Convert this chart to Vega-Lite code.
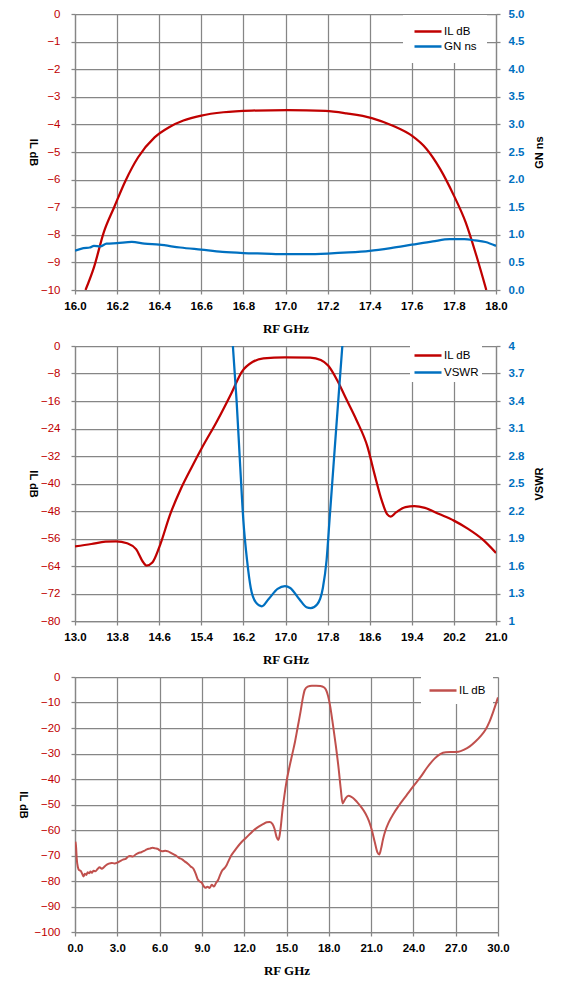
{
  "$schema": "https://vega.github.io/schema/vega-lite/v6.json",
  "background": "white",
  "padding": {"left": 17, "top": 8, "right": 5, "bottom": 5},
  "spacing": 4,
  "config": {
    "view": {"stroke": null},
    "axis": {
      "gridColor": "#868686", "gridWidth": 1.25, "gridOpacity": 1,
      "domainColor": "#868686", "domainWidth": 1.25,
      "tickColor": "#868686", "tickWidth": 1.25, "tickSize": 4
    },
    "axisX": {
      "labelFont": "Liberation Sans", "labelFontWeight": "bold", "labelFontSize": 11.5,
      "labelColor": "#000000", "labelPadding": 6, "labelFlush": false,
      "titleFont": "Liberation Serif", "titleFontSize": 13, "titleFontWeight": "bold",
      "titleColor": "#000000", "titlePadding": 11, "format": ".1f"
    },
    "axisY": {
      "labelFont": "Liberation Sans", "labelFontSize": 11.5, "labelPadding": 11,
      "titleFont": "Liberation Sans", "titleFontSize": 11, "titleFontWeight": "bold",
      "titleColor": "#000000", "titlePadding": 13
    },
    "legend": {
      "orient": "none", "title": null, "fillColor": "white", "strokeColor": null,
      "symbolType": "stroke", "symbolSize": 729, "symbolStrokeWidth": 2.5,
      "labelFont": "Liberation Sans", "labelFontSize": 11.5, "labelColor": "#000000",
      "labelOffset": 1, "rowPadding": 3, "padding": 10, "clipHeight": 13
    }
  },
  "datasets": {
    "p1il": [
      {"f": 16.05, "v": -10.0}, {"f": 16.09, "v": -9.18}, {"f": 16.137, "v": -7.9},
      {"f": 16.186, "v": -7.0}, {"f": 16.24, "v": -6.04}, {"f": 16.3, "v": -5.19},
      {"f": 16.378, "v": -4.47}, {"f": 16.447, "v": -4.1}, {"f": 16.515, "v": -3.86},
      {"f": 16.6, "v": -3.68}, {"f": 16.705, "v": -3.56}, {"f": 16.84, "v": -3.5},
      {"f": 17.01, "v": -3.48}, {"f": 17.19, "v": -3.51}, {"f": 17.29, "v": -3.6},
      {"f": 17.41, "v": -3.77}, {"f": 17.51, "v": -4.05}, {"f": 17.6, "v": -4.41},
      {"f": 17.67, "v": -4.89}, {"f": 17.735, "v": -5.62}, {"f": 17.8, "v": -6.58},
      {"f": 17.856, "v": -7.55}, {"f": 17.907, "v": -8.76}, {"f": 17.954, "v": -10.0}
    ],
    "p1gn": [
      {"f": 16.0, "v": 0.71}, {"f": 16.04, "v": 0.76}, {"f": 16.07, "v": 0.77},
      {"f": 16.09, "v": 0.8}, {"f": 16.12, "v": 0.79}, {"f": 16.15, "v": 0.84},
      {"f": 16.2, "v": 0.85}, {"f": 16.27, "v": 0.87}, {"f": 16.33, "v": 0.84},
      {"f": 16.4, "v": 0.82}, {"f": 16.5, "v": 0.77}, {"f": 16.6, "v": 0.73},
      {"f": 16.7, "v": 0.69}, {"f": 16.8, "v": 0.67}, {"f": 16.9, "v": 0.66},
      {"f": 17.0, "v": 0.65}, {"f": 17.1, "v": 0.65}, {"f": 17.2, "v": 0.66},
      {"f": 17.3, "v": 0.68}, {"f": 17.4, "v": 0.71}, {"f": 17.5, "v": 0.76},
      {"f": 17.6, "v": 0.82}, {"f": 17.7, "v": 0.88}, {"f": 17.78, "v": 0.92},
      {"f": 17.85, "v": 0.92}, {"f": 17.9, "v": 0.9}, {"f": 17.95, "v": 0.87},
      {"f": 18.0, "v": 0.8}
    ],
    "p2il": [
      {"f": 13.0, "v": -58.3}, {"f": 13.31, "v": -57.6}, {"f": 13.58, "v": -56.9},
      {"f": 13.78, "v": -56.8}, {"f": 13.99, "v": -57.4}, {"f": 14.16, "v": -59.1},
      {"f": 14.3, "v": -63.0}, {"f": 14.36, "v": -63.9}, {"f": 14.47, "v": -63.0},
      {"f": 14.6, "v": -58.6}, {"f": 14.81, "v": -48.9}, {"f": 15.01, "v": -41.6},
      {"f": 15.22, "v": -35.2}, {"f": 15.42, "v": -29.4}, {"f": 15.69, "v": -22.1},
      {"f": 15.97, "v": -13.8}, {"f": 16.17, "v": -7.5}, {"f": 16.38, "v": -4.6},
      {"f": 16.58, "v": -3.6}, {"f": 16.99, "v": -3.3}, {"f": 17.47, "v": -3.4},
      {"f": 17.67, "v": -4.1}, {"f": 17.81, "v": -5.7}, {"f": 17.98, "v": -9.9},
      {"f": 18.15, "v": -15.3}, {"f": 18.35, "v": -21.6}, {"f": 18.56, "v": -29.4},
      {"f": 18.69, "v": -37.2}, {"f": 18.83, "v": -45.0}, {"f": 18.93, "v": -48.9},
      {"f": 19.0, "v": -49.6}, {"f": 19.1, "v": -48.4}, {"f": 19.28, "v": -46.9},
      {"f": 19.45, "v": -46.6}, {"f": 19.65, "v": -47.1}, {"f": 19.92, "v": -48.9},
      {"f": 20.2, "v": -50.8}, {"f": 20.47, "v": -53.2}, {"f": 20.74, "v": -56.2},
      {"f": 21.0, "v": -60.2}
    ],
    "p2vs": [
      {"f": 16.0, "v": 4.0}, {"f": 16.07, "v": 3.41}, {"f": 16.14, "v": 2.68},
      {"f": 16.2, "v": 2.09}, {"f": 16.27, "v": 1.66}, {"f": 16.34, "v": 1.36},
      {"f": 16.44, "v": 1.2}, {"f": 16.55, "v": 1.16}, {"f": 16.68, "v": 1.24},
      {"f": 16.85, "v": 1.35}, {"f": 16.99, "v": 1.38}, {"f": 17.09, "v": 1.36},
      {"f": 17.26, "v": 1.24}, {"f": 17.4, "v": 1.15}, {"f": 17.48, "v": 1.14},
      {"f": 17.6, "v": 1.18}, {"f": 17.71, "v": 1.36}, {"f": 17.78, "v": 1.66},
      {"f": 17.84, "v": 2.13}, {"f": 17.91, "v": 2.68}, {"f": 17.98, "v": 3.23},
      {"f": 18.05, "v": 3.77}, {"f": 18.08, "v": 4.0}
    ],
    "p3il": [
      {"f": 0.03, "v": -64.6}, {"f": 0.08, "v": -67}, {"f": 0.12, "v": -71},
      {"f": 0.2, "v": -74.5}, {"f": 0.3, "v": -75.8}, {"f": 0.4, "v": -76},
      {"f": 0.5, "v": -77}, {"f": 0.6, "v": -78.2}, {"f": 0.7, "v": -77.2},
      {"f": 0.8, "v": -77.6}, {"f": 0.9, "v": -76.6}, {"f": 1.0, "v": -77},
      {"f": 1.1, "v": -76.3}, {"f": 1.2, "v": -76.8}, {"f": 1.3, "v": -76},
      {"f": 1.45, "v": -76.2}, {"f": 1.6, "v": -75.3}, {"f": 1.75, "v": -74.6},
      {"f": 1.9, "v": -75.2}, {"f": 2.05, "v": -74.6}, {"f": 2.2, "v": -73.8},
      {"f": 2.4, "v": -73.2}, {"f": 2.6, "v": -72.9}, {"f": 2.8, "v": -73.1},
      {"f": 3.0, "v": -72.8}, {"f": 3.2, "v": -72.2}, {"f": 3.4, "v": -71.6},
      {"f": 3.6, "v": -71.3}, {"f": 3.75, "v": -70.5}, {"f": 3.9, "v": -70.2},
      {"f": 4.1, "v": -70.4}, {"f": 4.3, "v": -69.6}, {"f": 4.5, "v": -69.0},
      {"f": 4.7, "v": -68.7}, {"f": 4.9, "v": -68.2}, {"f": 5.1, "v": -67.6},
      {"f": 5.3, "v": -67.3}, {"f": 5.5, "v": -67.0}, {"f": 5.7, "v": -67.2},
      {"f": 5.9, "v": -67.5}, {"f": 6.0, "v": -68.0}, {"f": 6.2, "v": -68.3},
      {"f": 6.4, "v": -68.1}, {"f": 6.6, "v": -68.4}, {"f": 6.8, "v": -69.0},
      {"f": 7.0, "v": -69.6}, {"f": 7.2, "v": -70.2}, {"f": 7.4, "v": -71.0},
      {"f": 7.6, "v": -71.5}, {"f": 7.8, "v": -72.4}, {"f": 8.0, "v": -73.2},
      {"f": 8.2, "v": -74.3}, {"f": 8.4, "v": -75.2}, {"f": 8.55, "v": -77},
      {"f": 8.7, "v": -79.3}, {"f": 8.85, "v": -80.2}, {"f": 9.0, "v": -80.7},
      {"f": 9.1, "v": -81.8}, {"f": 9.25, "v": -82.6}, {"f": 9.4, "v": -82.3},
      {"f": 9.55, "v": -82.7}, {"f": 9.7, "v": -81.5}, {"f": 9.85, "v": -82.2},
      {"f": 10.0, "v": -80.8}, {"f": 10.15, "v": -79.6}, {"f": 10.3, "v": -77.5},
      {"f": 10.45, "v": -75.8}, {"f": 10.6, "v": -75.0}, {"f": 10.75, "v": -73.8},
      {"f": 10.9, "v": -72.0}, {"f": 11.1, "v": -69.8}, {"f": 11.3, "v": -68.3},
      {"f": 11.5, "v": -66.8}, {"f": 11.8, "v": -64.8}, {"f": 12.1, "v": -63.2},
      {"f": 12.4, "v": -61.6}, {"f": 12.7, "v": -60.0}, {"f": 13.0, "v": -58.8},
      {"f": 13.3, "v": -57.8}, {"f": 13.6, "v": -57.0}, {"f": 13.8, "v": -56.9},
      {"f": 14.0, "v": -57.6}, {"f": 14.15, "v": -59.5}, {"f": 14.3, "v": -62.8},
      {"f": 14.42, "v": -63.9}, {"f": 14.5, "v": -62.5}, {"f": 14.6, "v": -58.5},
      {"f": 14.7, "v": -53}, {"f": 14.85, "v": -46.5}, {"f": 15.0, "v": -41},
      {"f": 15.2, "v": -35.5}, {"f": 15.4, "v": -30.5}, {"f": 15.6, "v": -25.5},
      {"f": 15.8, "v": -19.5}, {"f": 16.0, "v": -13.5}, {"f": 16.15, "v": -8.5},
      {"f": 16.3, "v": -5.0}, {"f": 16.5, "v": -3.8}, {"f": 16.8, "v": -3.4},
      {"f": 17.1, "v": -3.4}, {"f": 17.4, "v": -3.5}, {"f": 17.65, "v": -4.0},
      {"f": 17.8, "v": -5.0}, {"f": 17.95, "v": -7.5}, {"f": 18.1, "v": -11.5},
      {"f": 18.3, "v": -19}, {"f": 18.5, "v": -27}, {"f": 18.7, "v": -36},
      {"f": 18.85, "v": -44}, {"f": 18.98, "v": -49.6}, {"f": 19.05, "v": -49.0},
      {"f": 19.2, "v": -47.5}, {"f": 19.4, "v": -46.6}, {"f": 19.6, "v": -47.0},
      {"f": 19.8, "v": -47.8}, {"f": 20.0, "v": -49.0}, {"f": 20.3, "v": -51.0},
      {"f": 20.6, "v": -53.5}, {"f": 20.85, "v": -56.5}, {"f": 21.05, "v": -60},
      {"f": 21.25, "v": -64.5}, {"f": 21.45, "v": -68.8}, {"f": 21.58, "v": -69.6},
      {"f": 21.7, "v": -67.5}, {"f": 21.85, "v": -63.5}, {"f": 22.0, "v": -60.5},
      {"f": 22.25, "v": -57}, {"f": 22.6, "v": -53.5}, {"f": 23.0, "v": -50.2},
      {"f": 23.5, "v": -46.5}, {"f": 24.0, "v": -42.8}, {"f": 24.5, "v": -39.3},
      {"f": 25.0, "v": -35.3}, {"f": 25.5, "v": -32.0}, {"f": 25.9, "v": -30.2},
      {"f": 26.3, "v": -29.5}, {"f": 26.8, "v": -29.4}, {"f": 27.2, "v": -29.3},
      {"f": 27.6, "v": -28.5}, {"f": 28.0, "v": -27.2}, {"f": 28.4, "v": -25.3},
      {"f": 28.8, "v": -23.0}, {"f": 29.1, "v": -20.8}, {"f": 29.4, "v": -17.5},
      {"f": 29.7, "v": -13.0}, {"f": 30.0, "v": -8.0}
    ]
  },
  "resolve": {"scale": {"color": "independent"}, "legend": {"color": "independent"}},
  "vconcat": [
    {
      "width": 421, "height": 276,
      "resolve": {"scale": {"y": "independent"}},
      "layer": [
        {
          "data": {"name": "p1il"},
          "mark": {"type": "line", "strokeWidth": 2.25, "clip": true, "interpolate": "monotone"},
          "encoding": {
            "x": {"field": "f", "type": "quantitative", "scale": {"domain": [16, 18], "nice": false, "zero": false},
                  "axis": {"title": "RF GHz", "values": [16, 16.2, 16.4, 16.6, 16.8, 17, 17.2, 17.4, 17.6, 17.8, 18]}},
            "y": {"field": "v", "type": "quantitative", "scale": {"domain": [-10, 0], "nice": false},
                  "axis": {"title": "IL dB", "titleAngle": 90, "labelColor": "#c00000",
                           "values": [0, -1, -2, -3, -4, -5, -6, -7, -8, -9, -10]}},
            "color": {"datum": "IL dB", "type": "nominal",
                      "scale": {"domain": ["IL dB", "GN ns"], "range": ["#c00000", "#0070c0"]},
                      "legend": {"legendX": 328, "legendY": 1, "padding": 10, "rowPadding": 2}}
          }
        },
        {
          "data": {"name": "p1gn"},
          "mark": {"type": "line", "strokeWidth": 2.25, "clip": true, "interpolate": "monotone"},
          "encoding": {
            "x": {"field": "f", "type": "quantitative"},
            "y": {"field": "v", "type": "quantitative", "scale": {"domain": [0, 5], "nice": false},
                  "axis": {"orient": "right", "title": "GN ns", "titleAngle": 270, "titleBaseline": "top",
                           "titlePadding": 10, "grid": false, "labelPadding": 8,
                           "labelColor": "#0070c0", "labelFontWeight": "bold", "format": ".1f",
                           "values": [0, 0.5, 1, 1.5, 2, 2.5, 3, 3.5, 4, 4.5, 5]}},
            "color": {"datum": "GN ns", "type": "nominal"}
          }
        }
      ]
    },
    {
      "width": 421, "height": 275,
      "resolve": {"scale": {"y": "independent"}},
      "layer": [
        {
          "data": {"name": "p2il"},
          "mark": {"type": "line", "strokeWidth": 2.25, "clip": true, "interpolate": "monotone"},
          "encoding": {
            "x": {"field": "f", "type": "quantitative", "scale": {"domain": [13, 21], "nice": false, "zero": false},
                  "axis": {"title": "RF GHz", "values": [13, 13.8, 14.6, 15.4, 16.2, 17, 17.8, 18.6, 19.4, 20.2, 21]}},
            "y": {"field": "v", "type": "quantitative", "scale": {"domain": [-80, 0], "nice": false},
                  "axis": {"title": "IL dB", "titleAngle": 90, "labelColor": "#c00000",
                           "values": [0, -8, -16, -24, -32, -40, -48, -56, -64, -72, -80]}},
            "color": {"datum": "IL dB", "type": "nominal",
                      "scale": {"domain": ["IL dB", "VSWR"], "range": ["#c00000", "#0070c0"]},
                      "legend": {"legendX": 335, "legendY": 0, "padding": 3, "rowPadding": 4}}
          }
        },
        {
          "data": {"name": "p2vs"},
          "mark": {"type": "line", "strokeWidth": 2.25, "clip": true, "interpolate": "monotone"},
          "encoding": {
            "x": {"field": "f", "type": "quantitative"},
            "y": {"field": "v", "type": "quantitative", "scale": {"domain": [1, 4], "nice": false, "zero": false},
                  "axis": {"orient": "right", "title": "VSWR", "titleAngle": 270, "titleBaseline": "top",
                           "titlePadding": 10, "grid": false, "labelPadding": 8,
                           "labelColor": "#0070c0", "labelFontWeight": "bold", "format": ".1~f",
                           "values": [1, 1.3, 1.6, 1.9, 2.2, 2.5, 2.8, 3.1, 3.4, 3.7, 4]}},
            "color": {"datum": "VSWR", "type": "nominal"}
          }
        }
      ]
    },
    {
      "width": 423, "height": 255,
      "data": {"name": "p3il"},
      "mark": {"type": "line", "strokeWidth": 2, "clip": true, "interpolate": "monotone"},
      "encoding": {
        "x": {"field": "f", "type": "quantitative", "scale": {"domain": [0, 30], "nice": false},
              "axis": {"title": "RF GHz", "values": [0, 3, 6, 9, 12, 15, 18, 21, 24, 27, 30]}},
        "y": {"field": "v", "type": "quantitative", "scale": {"domain": [-100, 0], "nice": false},
              "axis": {"title": "IL dB", "titleAngle": 90, "labelColor": "#c00000", "titlePadding": 17,
                       "values": [0, -10, -20, -30, -40, -50, -60, -70, -80, -90, -100]}},
        "color": {"datum": "IL dB", "type": "nominal",
                  "scale": {"domain": ["IL dB"], "range": ["#c0504d"]},
                  "legend": {"legendX": 346, "legendY": 0, "padding": 7}}
      }
    }
  ]
}
